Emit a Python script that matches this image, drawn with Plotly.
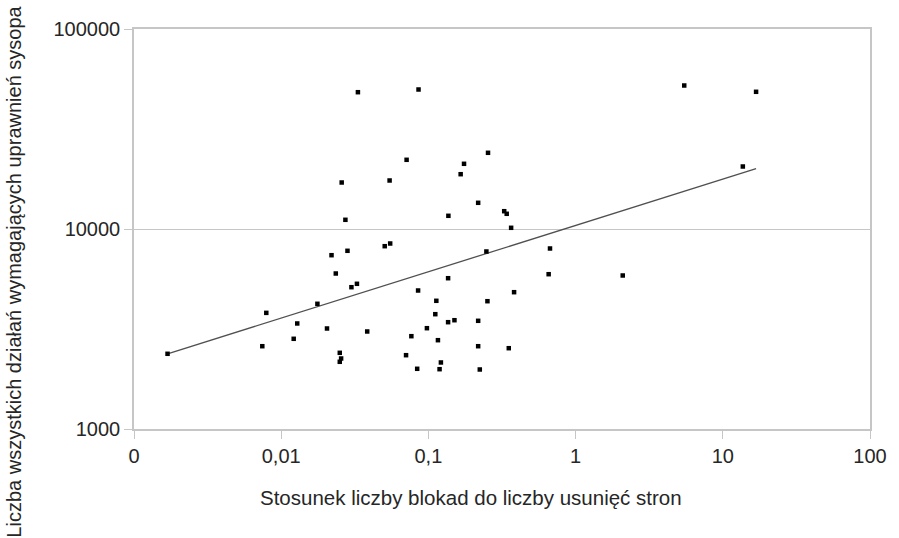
import numpy as np
import plotly.graph_objects as go

# Ratio of blocks to page deletions (x) and number of sysop actions (y)
ratio = [0.00169, 0.00744, 0.00792, 0.01216, 0.01285, 0.01762, 0.02047, 0.02197,
         0.02349, 0.0250, 0.02553, 0.0250, 0.02576, 0.0273, 0.0282, 0.0300,
         0.0327, 0.0332, 0.0384, 0.0505, 0.0550, 0.0545, 0.0711, 0.0705,
         0.0766, 0.0839, 0.0857, 0.0851, 0.0977, 0.1132, 0.1114, 0.1161,
         0.1216, 0.1191, 0.1361, 0.1361, 0.1367, 0.1503, 0.1656, 0.1746,
         0.2178, 0.2178, 0.2178, 0.2234, 0.2477, 0.2518, 0.2541, 0.3273,
         0.3404, 0.3516, 0.3648, 0.382, 0.670, 0.656, 2.09, 5.47, 13.68, 16.83]
actions = [2377, 2594, 3808, 2825, 3370, 4227, 3181, 7396,
           5991, 2404, 2252, 2168, 17080, 11117, 7780, 5117,
           5321, 48306, 3073, 8204, 8463, 17480, 22182, 2339,
           2911, 2000, 49830, 4926, 3192, 4375, 3750, 2780,
           2151, 1991, 5675, 3420, 11641, 3499, 18793, 21184,
           13521, 3475, 2594, 1984, 7718, 4355, 24044, 12274,
           11912, 2535, 10139, 4831, 7990, 5943, 5855, 52180, 20535, 48529]

# Trend line (power fit) as drawn in the chart: y = a * x^b
trend_a = 10420
trend_b = 0.2317

x_tickvals = [0.001, 0.01, 0.1, 1, 10, 100]
x_ticktext = ["0", "0,01", "0,1", "1", "10", "100"]
y_tickvals = [1000, 10000, 100000]
y_ticktext = ["1000", "10000", "100000"]

x_title = "Stosunek liczby blokad do liczby usunięć stron"
y_title = "Liczba wszystkich działań wymagających uprawnień sysopa"

xs = np.array(ratio)
tx = np.array([xs.min(), xs.max()])
ty = trend_a * tx ** trend_b

FONT = "Liberation Sans, Arial, sans-serif"
TXT = "#262626"
GRID = "#c6c6c6"

fig = go.Figure()
fig.add_trace(go.Scatter(x=tx, y=ty, mode="lines",
                         line=dict(color="#505050", width=1.3),
                         hoverinfo="skip", showlegend=False))
fig.add_trace(go.Scatter(x=ratio, y=actions, mode="markers",
                         marker=dict(symbol="square", size=4.5, color="#000000",
                                     line=dict(width=0)),
                         showlegend=False))

W, H = 899, 538
L, R, T, B = 134, 20, 28.5, 109
fig.update_layout(
    width=W, height=H,
    margin=dict(l=L, r=R, t=T, b=B, pad=0),
    paper_bgcolor="white", plot_bgcolor="white",
    font=dict(family=FONT, size=20, color=TXT),
)
fig.update_xaxes(type="log", range=[-3, 2], tickmode="array",
                 tickvals=x_tickvals, ticktext=x_ticktext,
                 showgrid=False, zeroline=False,
                 showline=True, linecolor=GRID, linewidth=1.5, mirror=True,
                 ticks="outside", ticklen=8, tickcolor=GRID, tickwidth=1.2,
                 tickfont=dict(family=FONT, size=20, color=TXT))
fig.update_yaxes(type="log", range=[3, 5], tickmode="array",
                 tickvals=y_tickvals, ticktext=y_ticktext,
                 showgrid=True, gridcolor=GRID, gridwidth=1.2, zeroline=False,
                 showline=True, linecolor=GRID, linewidth=1.5, mirror=True,
                 ticks="outside", ticklen=8, tickcolor=GRID, tickwidth=1.2,
                 tickfont=dict(family=FONT, size=20, color=TXT))

pw = W - L - R
ph = H - T - B
fig.add_annotation(text=x_title, xref="paper", yref="paper",
                   x=(475 - L) / pw, y=-(498 - (H - B)) / ph,
                   xanchor="center", yanchor="middle", showarrow=False,
                   font=dict(family=FONT, size=20.5, color=TXT))
fig.add_annotation(text=y_title, xref="paper", yref="paper",
                   x=(13 - L) / pw, y=((H - B) - 271) / ph,
                   xanchor="center", yanchor="middle", textangle=-90,
                   showarrow=False,
                   font=dict(family=FONT, size=20, color=TXT))

fig.write_html("out.html")
